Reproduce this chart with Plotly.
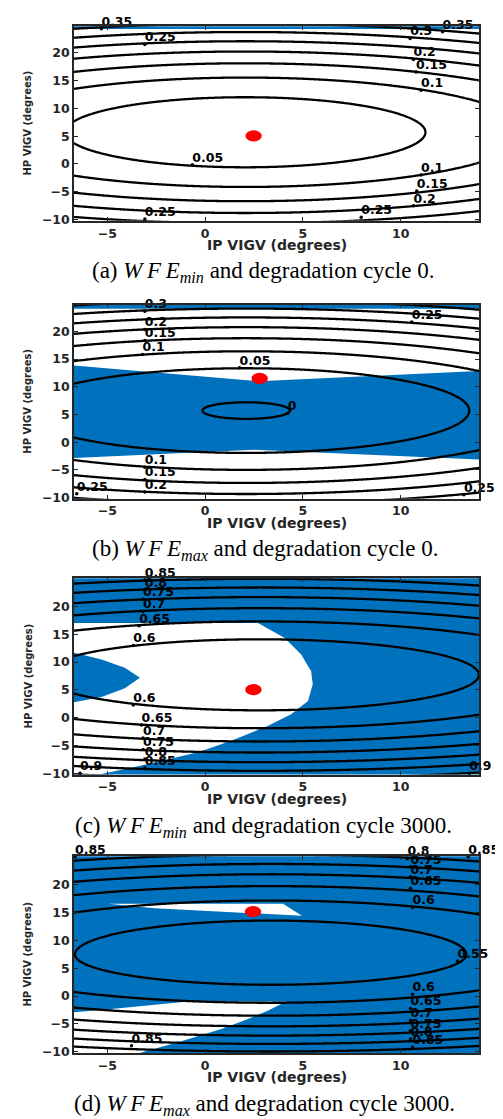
import numpy as np
import plotly.graph_objects as go

W, H = 503, 1119

# ---------------- data ----------------
captions = [
    "(a) <i>W\u2009F\u2009E</i><sub><i>min</i></sub> and degradation cycle 0.",
    "(b) <i>W\u2009F\u2009E</i><sub><i>max</i></sub> and degradation cycle 0.",
    "(c) <i>W\u2009F\u2009E</i><sub><i>min</i></sub> and degradation cycle 3000.",
    "(d) <i>W\u2009F\u2009E</i><sub><i>max</i></sub> and degradation cycle 3000.",
]
x_title = "IP VIGV (degrees)"
y_title = "HP VIGV (degrees)"
x_ticks = [-5, 0, 5, 10]
y_ticks = [-10, -5, 0, 5, 10, 15, 20]

surf_z0 = [0.0152, -0.002, 0.5604, 0.5175]
surf_xc = [2.05, 2.1, 2.8, 3.35]
surf_yc = [5.7, 5.7, 7.7, 7.5]
surf_kx = [0.00041, 0.0004, 0.000316, 0.000325]
surf_ky_up = [0.000877, 0.000893, 0.00097, 0.000877]
surf_ky_down = [0.000877, 0.000893, 0.00097, 0.00109]
level_start = [0.05, 0.0, 0.60, 0.55]
level_end = [0.40, 0.35, 0.90, 0.85]
level_step = [0.05, 0.05, 0.05, 0.05]

# optimum (red dot)
opt_x = [2.48, 2.79, 2.47, 2.45]
opt_y = [5.05, 11.5, 5.03, 15.2]

# contour labels (position of the label dot, label text)
lab_a_x = [-5.3, -3.08, 10.48, 12.14, 13.33, 10.65, 10.78, 11.04, -0.65, 11.04, 10.82, 10.65, -3.08, 7.98]
lab_a_y = [24.3, 21.5, 22.55, 23.75, 25.3, 18.8, 16.55, 13.27, -0.13, -2.0, -4.88, -7.5, -9.9, -9.6]
lab_a_t = ["0.35", "0.25", "0.3", "0.35", "0.4", "0.2", "0.15", "0.1", "0.05", "0.1", "0.15", "0.2", "0.25", "0.25"]

lab_b_x = [-5.0, -3.08, -3.08, -3.08, -3.2, 1.76, 4.22, -3.08, -3.08, -3.08, -6.56, 9.83, 10.56, 13.23]
lab_b_y = [25.08, 23.59, 20.3, 18.33, 15.82, 13.42, 5.24, -4.5, -6.72, -8.99, -9.29, 25.2, 21.67, -9.47]
lab_b_t = ["0.35", "0.3", "0.2", "0.15", "0.1", "0.05", "0", "0.1", "0.15", "0.2", "0.25", "0.35", "0.25", "0.25"]

lab_c_x = [-3.08, -3.08, -3.17, -3.17, -3.37, -3.67, -3.67, -3.25, -3.17, -3.17, -3.08, -3.08, -6.39, 13.5]
lab_c_y = [24.77, 22.98, 21.31, 19.1, 16.54, 12.96, 2.29, -1.35, -3.67, -5.76, -7.43, -9.04, -10.0, -10.0]
lab_c_t = ["0.85", "0.8", "0.75", "0.7", "0.65", "0.6", "0.6", "0.65", "0.7", "0.75", "0.8", "0.85", "0.9", "0.9"]

lab_d_x = [-6.65, 10.34, 13.45, 10.5, 10.5, 10.5, 10.6, 12.9, 10.6, 10.5, 10.5, 10.5, 10.5, 10.6, -3.76]
lab_d_y = [25.07, 24.77, 25.07, 23.28, 21.5, 19.4, 15.95, 6.3, 0.32, -2.24, -4.33, -6.24, -7.73, -9.22, -8.92]
lab_d_t = ["0.85", "0.8", "0.85", "0.75", "0.7", "0.65", "0.6", "0.55", "0.6", "0.65", "0.7", "0.75", "0.8", "0.85", "0.85"]

# feasible-region outlines (blue) and infeasible holes (white)
reg_a_band_x = [-6.8, 14.2, 14.2, -6.8]
reg_a_band_y = [24.25, 24.25, 25.6, 25.6]

reg_b_band_x = [-6.8, 14.2, 14.2, -6.8]
reg_b_band_y = [24.05, 24.05, 25.6, 25.6]
reg_b_main_x = [-6.8, 2.7, 14.2, 14.2, 2.5, -6.8]
reg_b_main_y = [13.85, 11.0, 12.85, -3.17, -1.38, -2.88]

reg_c_all_x = [-6.8, 14.2, 14.2, -6.8]
reg_c_all_y = [-10.6, -10.6, 25.6, 25.6]
reg_c_hole_x = [-6.8, 2.70, 4.07, 4.91, 5.42, 5.5, 5.26, 4.40, 3.04, 1.34, -0.36, -3.6, -5.63, -6.8]
reg_c_hole_y = [17.03, 17.03, 14.34, 11.36, 8.36, 6.0, 3.0, 0.62, -1.76, -4.16, -6.24, -8.9, -10.4, -10.4]
reg_c_wedge_x = [-6.8, -5.29, -4.1, -3.33, -4.1, -5.29, -6.8]
reg_c_wedge_y = [11.77, 10.46, 8.97, 7.18, 5.27, 3.71, 2.7]

reg_d_all_x = [-6.8, 14.2, 14.2, -6.8]
reg_d_all_y = [-10.6, -10.6, 25.6, 25.6]
reg_d_hole1_x = [-4.95, 3.98, 4.95, -2.57]
reg_d_hole1_y = [16.6, 16.6, 14.45, 15.8]
reg_d_hole2_x = [-6.8, -5.3, -0.87, 4.15, 3.2, 2.0, 0.83, -1.38, -2.9, -3.5, -6.8]
reg_d_hole2_y = [-2.95, -2.5, -0.98, -0.98, -2.65, -4.4, -5.94, -8.3, -9.8, -10.4, -10.4]

# ---------------- styling / layout ----------------
BLUE = "rgb(0,114,189)"
AXC = "#262626"
plot_left, plot_right = 66, 471
plot_px = [(18.3, 214.0), (298.3, 493.3), (573.3, 770.7), (852.7, 1050.7)]  # (top, bottom)
y_ranges = [(-10.23, 24.77), (-10.18, 24.79), (-10.25, 25.08), (-10.25, 25.19)]
x_range = (-6.7, 14.0)
caption_y = [265, 545, 823.3, 1103.3]
caption_left = [82, 82, 65, 64]

regions = [
    [(reg_a_band_x, reg_a_band_y, BLUE)],
    [(reg_b_band_x, reg_b_band_y, BLUE), (reg_b_main_x, reg_b_main_y, BLUE)],
    [(reg_c_all_x, reg_c_all_y, BLUE), (reg_c_hole_x, reg_c_hole_y, "white"),
     (reg_c_wedge_x, reg_c_wedge_y, BLUE)],
    [(reg_d_all_x, reg_d_all_y, BLUE), (reg_d_hole1_x, reg_d_hole1_y, "white"),
     (reg_d_hole2_x, reg_d_hole2_y, "white")],
]
labels = [(lab_a_x, lab_a_y, lab_a_t), (lab_b_x, lab_b_y, lab_b_t),
          (lab_c_x, lab_c_y, lab_c_t), (lab_d_x, lab_d_y, lab_d_t)]

gx = np.linspace(-6.9, 14.3, 260)
gy = np.linspace(-10.8, 26.0, 420)
GX, GY = np.meshgrid(gx, gy)


def poly_path(xs, ys):
    pts = [f"{x},{y}" for x, y in zip(xs, ys)]
    return "M " + " L ".join(pts) + " Z"


fig = go.Figure()
layout = dict(width=W, height=H, margin=dict(l=0, r=0, t=0, b=0),
              paper_bgcolor="white", plot_bgcolor="white", showlegend=False)
shapes, annotations = [], []
tick_font = dict(family="DejaVu Sans", size=12.5, color=AXC, weight="bold")

for i in range(4):
    xa, ya = f"x{i+1}", f"y{i+1}"
    # regions (below the traces)
    for rx, ry, col in regions[i]:
        shapes.append(dict(type="path", xref=xa, yref=ya, path=poly_path(rx, ry),
                           fillcolor=col, line=dict(width=0), layer="below"))
    # surface & contours
    dy = GY - surf_yc[i]
    ky = np.where(dy > 0, surf_ky_up[i], surf_ky_down[i])
    Z = surf_z0[i] + surf_kx[i] * (GX - surf_xc[i]) ** 2 + ky * dy ** 2
    fig.add_trace(go.Contour(x=gx, y=gy, z=Z, autocontour=False,
                             contours=dict(start=level_start[i], end=level_end[i] + 1e-9,
                                           size=level_step[i], coloring="none", showlabels=False),
                             line=dict(color="black", width=2.3), showscale=False,
                             hoverinfo="skip", xaxis=xa, yaxis=ya))
    # labels: dot + text
    lx, ly, lt = labels[i]
    fig.add_trace(go.Scatter(x=lx, y=ly, mode="markers", marker=dict(size=3.5, color="black"),
                             cliponaxis=False, hoverinfo="skip", xaxis=xa, yaxis=ya))
    fig.add_trace(go.Scatter(x=lx, y=ly, text=lt, mode="text", textposition="top right",
                             marker=dict(size=0.5),
                             textfont=dict(family="DejaVu Sans", size=12.5, color="black", weight="bold"),
                             cliponaxis=False, hoverinfo="skip", xaxis=xa, yaxis=ya))
    # optimum
    shapes.append(dict(type="circle", xref=xa, yref=ya, x0=opt_x[i] - 0.42, x1=opt_x[i] + 0.42,
                       y0=opt_y[i] - 1.0, y1=opt_y[i] + 1.0, fillcolor="red",
                       line=dict(width=0), layer="above"))
    top, bot = plot_px[i]
    dom_y = [1 - bot / H, 1 - top / H]
    axis_common = dict(showgrid=False, zeroline=False, showline=True, linecolor=AXC, linewidth=1.5,
                       mirror="allticks", ticks="inside", ticklen=4, tickwidth=1, tickcolor=AXC,
                       tickfont=tick_font, layer="above traces")
    layout[f"xaxis{i+1}"] = dict(domain=[plot_left / W, plot_right / W], anchor=ya,
                                 range=list(x_range), tickvals=x_ticks, **axis_common)
    layout[f"yaxis{i+1}"] = dict(domain=dom_y, anchor=xa, range=list(y_ranges[i]),
                                 tickvals=y_ticks, **axis_common)
    annotations.append(dict(text=x_title, xref="paper", yref="paper",
                            x=(plot_left + plot_right) / 2 / W, y=1 - (bot + 24.5) / H,
                            showarrow=False, xanchor="center", yanchor="middle",
                            font=dict(family="DejaVu Sans", size=14, color=AXC, weight="bold")))
    annotations.append(dict(text=y_title, xref="paper", yref="paper", textangle=-90,
                            x=20 / W, y=1 - (top + bot) / 2 / H,
                            showarrow=False, xanchor="center", yanchor="middle",
                            font=dict(family="DejaVu Sans", size=10, color=AXC, weight="bold")))
    annotations.append(dict(text=captions[i], xref="paper", yref="paper",
                            x=caption_left[i] / W, y=1 - caption_y[i] / H, showarrow=False,
                            xanchor="left", yanchor="middle",
                            font=dict(family="Liberation Serif", size=23, color="black")))

layout["shapes"] = shapes
layout["annotations"] = annotations
fig.update_layout(**layout)
fig.write_html("out.html")
